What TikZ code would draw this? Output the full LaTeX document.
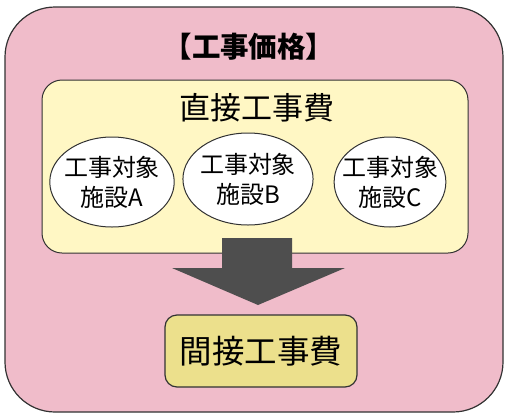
\documentclass[tikz,border=0pt]{standalone}
\usepackage{fontspec}
\setmainfont{Noto Sans CJK JP}
\usetikzlibrary{shapes.geometric}

\definecolor{pricepink}{RGB}{240,188,202}
\definecolor{directyellow}{RGB}{255,247,196}
\definecolor{indirectkhaki}{RGB}{236,224,140}
\definecolor{arrowgray}{RGB}{78,78,78}
\definecolor{edgegray}{RGB}{50,50,50}

\tikzset{
    facility/.style={ellipse, draw=edgegray, line width=1pt, fill=white,
        inner xsep=#1, inner ysep=0pt, minimum height=90pt,
        align=center, font=\fontsize{24}{30}\selectfont},
    facility/.default=-4pt
}

\begin{document}
\begin{tikzpicture}[x=1pt, y=-1pt]
    \useasboundingbox (0,0) rectangle (507,416);

    % Outer box: construction price
    \draw[edgegray, line width=1.2pt, fill=pricepink, rounded corners=50pt]
        (5,7) rectangle (503,412);
    \node[font=\bfseries\fontsize{28.5}{32}\selectfont] (price) at (249,47) {【工事価格】};

    % Direct construction cost
    \draw[edgegray, line width=1pt, fill=directyellow, rounded corners=20pt]
        (42,80) rectangle (468,253);
    \node[font=\fontsize{31}{36}\selectfont] (direct) at (257,108) {直接工事費};

    % Facilities (narrow ellipses, text close to the edge)
    \node[facility=-4pt] (facA) at (112,182) {工事対象\\施設A};
    \node[facility=-2pt, minimum height=92pt] (facB) at (248,179) {工事対象\\施設B};
    \node[facility=-8.5pt] (facC) at (390,182) {工事対象\\施設C};

    % Block arrow down to indirect cost (covers the box edge)
    \fill[arrowgray] (222,238) -- (292,238) -- (292,268) -- (345,268)
        -- (258,305) -- (172,268) -- (222,268) -- cycle;

    % Indirect construction cost
    \node[draw=edgegray, line width=1.2pt, fill=indirectkhaki, rounded corners=12pt,
        minimum width=192pt, minimum height=72pt,
        font=\fontsize{32.5}{36}\selectfont] (indirect) at (261,351) {間接工事費};
\end{tikzpicture}
\end{document}
